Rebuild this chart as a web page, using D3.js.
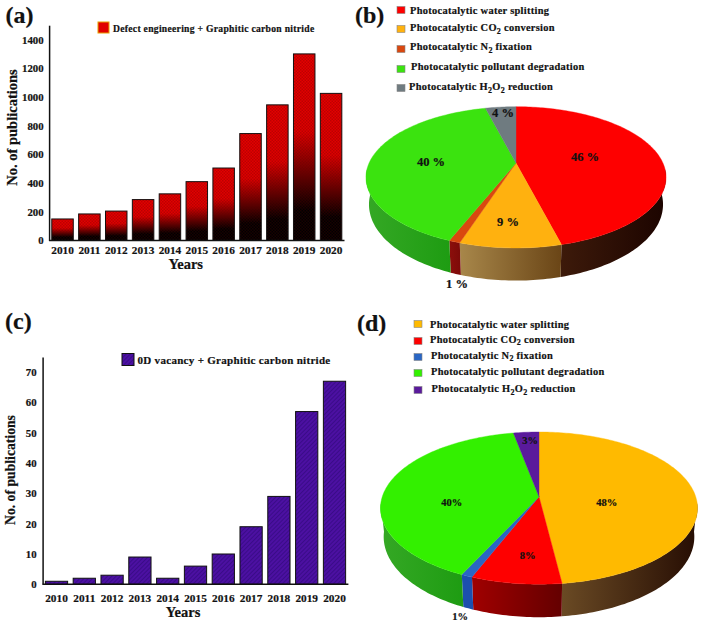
<!DOCTYPE html>
<html>
<head>
<meta charset="utf-8">
<script src="https://cdn.jsdelivr.net/npm/d3@7"></script>
<style>
html,body{margin:0;padding:0;background:#fff}
svg{display:block}
text{font-family:"Liberation Serif",serif;font-weight:bold;fill:#111;stroke:#111;stroke-width:.2}
</style>
</head>
<body>
<svg id="c" width="709" height="639"></svg>
<script>
const years = ["2010","2011","2012","2013","2014","2015","2016","2017","2018","2019","2020"];
const defectCounts = [150,185,205,285,325,410,505,745,945,1300,1025];
const vacancyCounts = [1,2,3,9,2,6,10,19,29,57,67];
const defectTicks = [0,200,400,600,800,1000,1200,1400];
const vacancyTicks = [0,10,20,30,40,50,60,70];
const legendB = ["Photocatalytic water splitting","Photocatalytic CO2 conversion","Photocatalytic N2 fixation","Photocatalytic pollutant degradation","Photocatalytic H2O2 reduction"];
const legendD = legendB;
const sharesB = [46,9,1,40,4];
const sharesD = [48,8,1,40,3];
const labelsB = ["46 %","9 %","1 %","40 %","4 %"];
const labelsD = ["48%","8%","1%","40%","3%"];
const coloursB = ["#fe0000","#ffb10f","#d9480f","#3be30f","#6f7b80"];
const coloursD = ["#ffba00","#fe0000","#2a66c4","#33f000","#5a1a9c"];
const sidesB = [["#3d1a0a","#1c0400"],["#a8874a","#6a4516"],["#8c0f0c","#7c0a08"],["#35a825","#1e9c12"],["#444","#444"]];
const sidesD = [["#6a4a24","#260d03"],["#a00000","#640000"],["#1c4fae","#1c4fae"],["#35a825","#1e9c12"],["#333","#333"]];

const svg = d3.select("#c");
const defs = svg.append("defs");

const bg = defs.append("linearGradient").attr("id","redBlack").attr("x1",0).attr("y1",0).attr("x2",0).attr("y2",1);
[[0,"#e60000"],[.42,"#dd0000"],[.84,"#000"],[1,"#000"]].forEach(s=>bg.append("stop").attr("offset",s[0]).attr("stop-color",s[1]));
const checker = defs.append("pattern").attr("id","checker").attr("width",3).attr("height",3).attr("patternUnits","userSpaceOnUse");
checker.append("rect").attr("width",1.5).attr("height",1.5).attr("fill","rgba(90,0,0,.28)");
checker.append("rect").attr("x",1.5).attr("y",1.5).attr("width",1.5).attr("height",1.5).attr("fill","rgba(90,0,0,.28)");
const hatch = defs.append("pattern").attr("id","hatch").attr("width",3).attr("height",3).attr("patternUnits","userSpaceOnUse").attr("patternTransform","rotate(45)");
hatch.append("rect").attr("width",3).attr("height",3).attr("fill","#4c10a2");
hatch.append("rect").attr("width",1).attr("height",3).attr("fill","#3a0c88");

function panelLetter(t,x,y){ svg.append("text").attr("x",x).attr("y",y).attr("font-size",24).text(t); }
panelLetter("(a)",5.5,23); panelLetter("(b)",355,23); panelLetter("(c)",5,329); panelLetter("(d)",357,331);

function barChart(o){
  const x = d3.scaleBand().domain(years).range(o.xr).paddingInner(.2).paddingOuter(.1);
  const y = d3.scaleLinear().domain(o.yd).range(o.yr);
  const g = svg.append("g");
  const bars = g.selectAll("g.bar").data(o.values).join("g").attr("class","bar");
  bars.append("rect").attr("x",(d,i)=>x(years[i])).attr("y",d=>y(d)).attr("width",x.bandwidth()).attr("height",d=>o.yr[0]-y(d))
    .attr("fill",o.fill).attr("stroke","#111").attr("stroke-width",1);
  if(o.overlay) bars.append("rect").attr("x",(d,i)=>x(years[i])).attr("y",d=>y(d)).attr("width",x.bandwidth()).attr("height",d=>o.yr[0]-y(d)).attr("fill",o.overlay);
  const ax = g.append("g").attr("transform",`translate(0,${o.yr[0]})`).call(d3.axisBottom(x).tickSize(0).tickPadding(o.xpad));
  ax.selectAll("text").attr("font-size",11.3).attr("font-family","Liberation Serif").attr("font-weight","bold").attr("fill","#111");
  ax.select(".domain").attr("stroke","#111").attr("stroke-width",1.5).attr("d",`M${o.xr[0]},0H${o.xr[1]}`);
  const ay = g.append("g").attr("transform",`translate(${o.xr[0]},0)`).call(d3.axisLeft(y).tickValues(o.ticks).tickFormat(d3.format("d")).tickSize(0).tickPadding(o.ypad));
  ay.selectAll("text").attr("font-size",10.8).attr("font-family","Liberation Serif").attr("font-weight","bold").attr("fill","#111");
  ay.select(".domain").attr("stroke","#111").attr("stroke-width",1.5);
  g.append("text").attr("x",o.xt[0]).attr("y",o.xt[1]).attr("text-anchor","middle").attr("font-size",14.5).text("Years");
  g.append("text").attr("transform",`translate(${o.yt[0]},${o.yt[1]}) rotate(-90)`).attr("text-anchor","middle").attr("font-size",o.ytSize).text("No. of publications");
  g.append("rect").attr("x",o.sw[0]).attr("y",o.sw[1]).attr("width",o.sw[2]).attr("height",o.sw[3]).attr("fill",o.swFill).attr("stroke",o.swStroke).attr("stroke-width",1);
  g.append("text").attr("x",o.lg[0]).attr("y",o.lg[1]).attr("font-size",o.lg[2]).attr("letter-spacing",o.lg[3]).text(o.legend);
}
barChart({values:defectCounts,xr:[49.1,344.5],yd:[0,1500],yr:[240.5,25.2],ticks:defectTicks,fill:"url(#redBlack)",overlay:"url(#checker)",
  xpad:5,ypad:5.5,xt:[185.7,269],yt:[17,127.5],ytSize:14.5,sw:[98,22,11,11],swFill:"#e00000",swStroke:"#e8a000",
  lg:[113,32,9.6,0.3],legend:"Defect engineering + Graphitic carbon nitride"});
barChart({values:vacancyCounts,xr:[42.6,348.4],yd:[0,75],yr:[584.3,357],ticks:vacancyTicks,fill:"url(#hatch)",
  xpad:10,ypad:6,xt:[183,616.7],yt:[15.3,470],ytSize:13.7,sw:[122,353.5,12,12],swFill:"url(#hatch)",swStroke:"#111",
  lg:[137.5,363.5,11,0.3],legend:"0D vacancy + Graphitic carbon nitride"});

function pie3d(o){
  const arcs = d3.pie().sort(null).startAngle(0).endAngle(2*Math.PI)(o.shares);
  const P = a=>{const u=Math.sin(a),v=Math.cos(a),w=1+o.k*v;return [o.cx+o.b*u/w,o.cy-o.c*v/w,w];};
  const B = a=>{const p=P(a);return [o.cx+(p[0]-o.cx)*.98,p[1]+o.depth/p[2]];};
  const samples=(a0,a1)=>{const n=Math.max(2,Math.ceil((a1-a0)/.02));return d3.range(n+1).map(i=>a0+(a1-a0)*i/n);};
  const g = svg.append("g");
  const line = d3.line();
  const visLo = 95*Math.PI/180, visHi = 265*Math.PI/180;
  arcs.forEach((d,i)=>{
    const a0=Math.max(d.startAngle,visLo), a1=Math.min(d.endAngle,visHi);
    if(a1<=a0) return;
    const id=o.id+"s"+i;
    const lg=defs.append("linearGradient").attr("id",id).attr("x1",0).attr("y1",0).attr("x2",1).attr("y2",0);
    lg.append("stop").attr("offset",0).attr("stop-color",o.sides[i][0]);
    lg.append("stop").attr("offset",1).attr("stop-color",o.sides[i][1]);
    const s=samples(a0,a1);
    g.append("path").attr("d",line(s.map(P).map(p=>[p[0],p[1]]).concat(s.slice().reverse().map(B)))+"Z").attr("fill",`url(#${id})`);
  });
  arcs.forEach((d,i)=>{
    const pts=[[o.cx,o.cy]].concat(samples(d.startAngle,d.endAngle).map(P).map(p=>[p[0],p[1]]));
    g.append("path").attr("d",line(pts)+"Z").attr("fill",o.colours[i]).attr("stroke",o.colours[i]).attr("stroke-width",.4);
  });
  o.labels.forEach((t,i)=>g.append("text").attr("x",o.lp[i][0]).attr("y",o.lp[i][1]).attr("text-anchor","middle").attr("dominant-baseline","middle").attr("font-size",o.lsize).text(t));
  o.legend.forEach((t,i)=>{
    const e=o.leg[i];
    g.append("rect").attr("x",e[0]).attr("y",e[1]-3.5).attr("width",8).attr("height",7).attr("fill",o.colours[i]).attr("stroke","#888").attr("stroke-width",.6);
    const tx=g.append("text").attr("x",e[2]).attr("y",e[3]).attr("font-size",10.4).attr("letter-spacing",.3);
    let shift=0;
    t.split(/(\d)/).forEach((part,j)=>{
      if(!part) return;
      const span=tx.append("tspan").text(part);
      if(j%2){ span.attr("dy",2.5-shift).attr("font-size",8); shift=2.5; }
      else { if(shift) span.attr("dy",-shift); shift=0; }
    });
  });
}
pie3d({id:"b",shares:sharesB,labels:labelsB,colours:coloursB,sides:sidesB,legend:legendB,cx:516,cy:163,b:146.9,c:67.7,k:.203,depth:26,lsize:12.5,
  lp:[[585,158],[508,223],[457,285],[431,163],[503,114]],
  leg:[[397,10,410,14],[397,29,410,31],[397,49,410,50],[397,69,411,70],[397,88,409,90]]});
pie3d({id:"d",shares:sharesD,labels:labelsD,colours:coloursD,sides:sidesD,legend:legendD,cx:539,cy:496.7,b:156.7,c:74.4,k:.15,depth:28,lsize:10.5,
  lp:[[606.7,504],[527.7,557],[460,618],[451.7,504],[530,441.7]],
  leg:[[414,324,430,327.5],[414,341,430,342.5],[414,357,431,358.5],[414,373,431,375],[414,390,431.5,392]]});
</script>
</body>
</html>
